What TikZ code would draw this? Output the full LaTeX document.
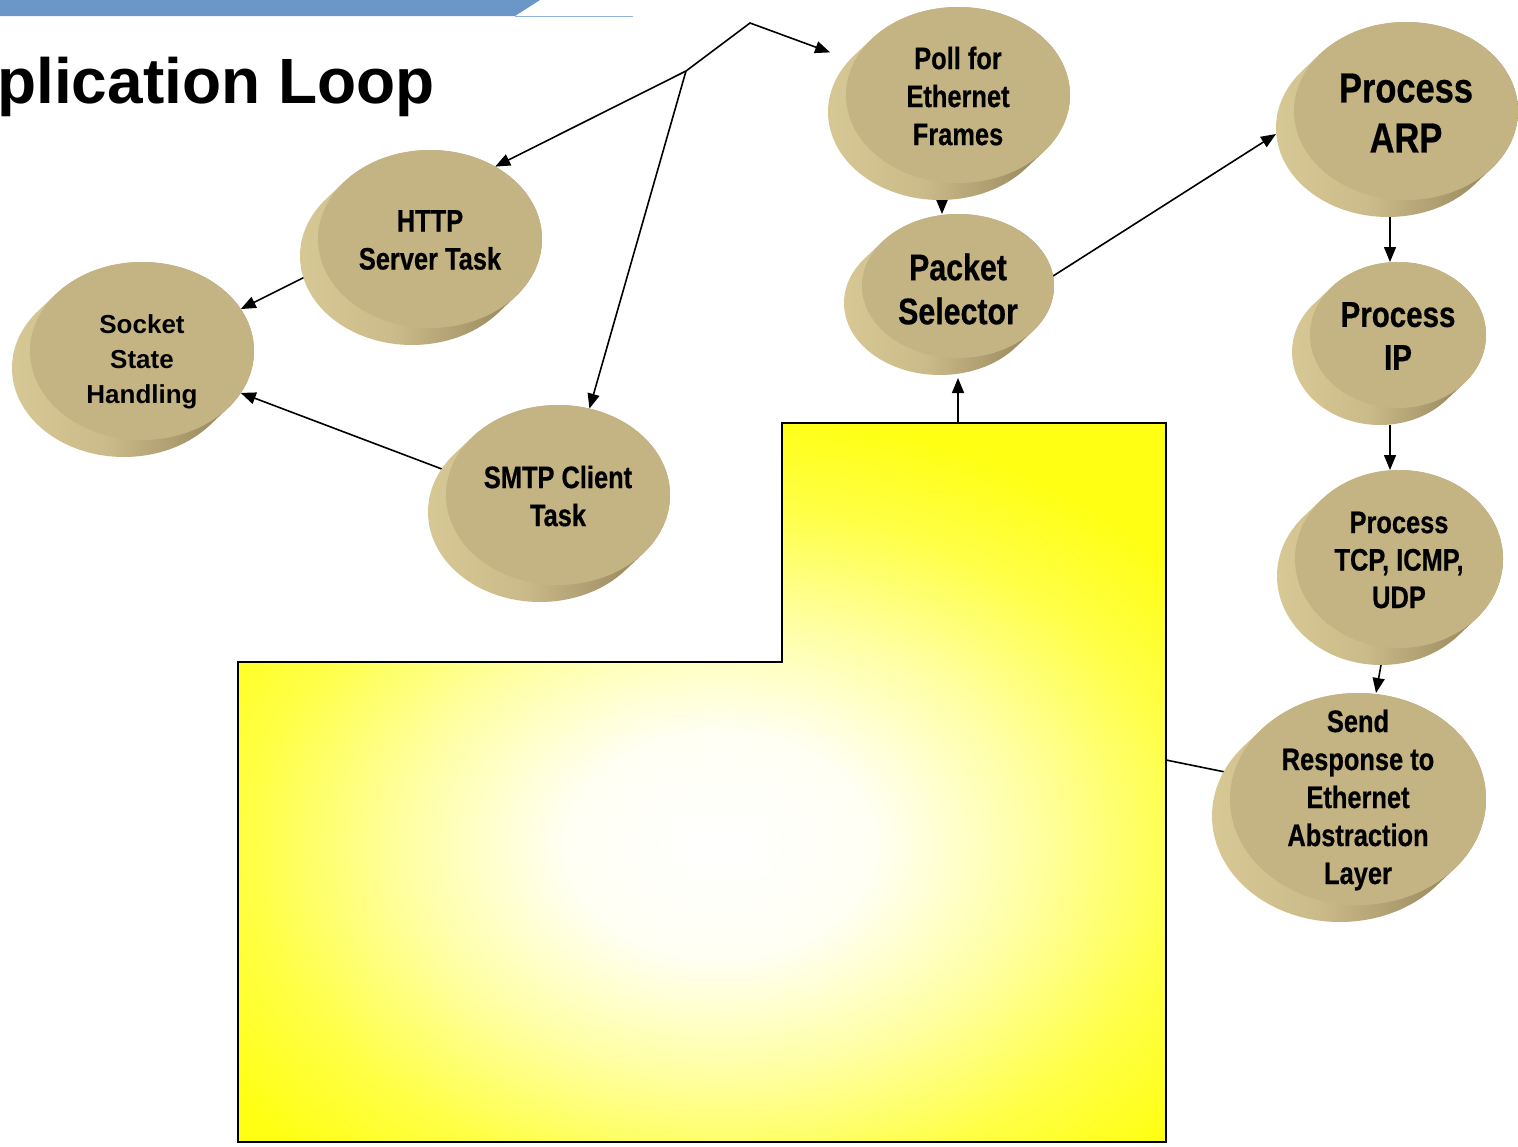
\documentclass[tikz,border=0pt]{standalone}
\usepackage{fontspec}
\setmainfont{Liberation Sans}
\newfontfamily\narrowfont{Liberation Sans}[FakeStretch=0.82, FakeBold=0.6]
\usetikzlibrary{arrows.meta,shapes.geometric,calc}
\pgfdeclarelayer{bg}
\pgfsetlayers{bg,main}
\definecolor{face}{HTML}{C4B484}
\definecolor{sideL}{HTML}{E4D7A0}
\definecolor{sideM}{HTML}{CBBB8A}
\definecolor{sideD}{HTML}{9A8A5F}
\definecolor{band}{HTML}{6A97C7}
\definecolor{bandline}{HTML}{8EB2DC}
\definecolor{boxyellow}{HTML}{FFFF14}
\pgfdeclarehorizontalshading{discside}{100bp}{color(0bp)=(sideL); color(22bp)=(sideL!60!sideM); color(45bp)=(sideM); color(66bp)=(sideD); color(86bp)=(sideM); color(100bp)=(face)}
\pgfdeclareradialshading{boxglow}{\pgfpoint{0bp}{0bp}}{color(0bp)=(white); color(6bp)=(white!95!boxyellow); color(12bp)=(white!62!boxyellow); color(18bp)=(white!22!boxyellow); color(23bp)=(boxyellow); color(50bp)=(boxyellow)}
\tikzset{
  arr/.style={line width=1.6pt, -{Triangle[length=15pt,width=12pt]}},
  conn/.style={line width=1.6pt},
  discface/.style={ellipse, fill=face, inner sep=0pt, outer sep=0pt},
  disctext/.style={align=center, inner sep=0pt},
}
\newcommand\disc[8]{%
  \pgfmathsetmacro\discth{180-atan(18*#5/(17*#4))}%
  \pgfmathsetmacro\discthb{\discth+180}%
  \shade[shading=discside]
    ($(#2,-#3)+(-18,-17)+(\discth:#4pt and #5pt)$)
    arc[start angle=\discth, delta angle=180, x radius=#4pt, y radius=#5pt]
    -- ($(#2,-#3)+(\discthb:#4pt and #5pt)$)
    arc[start angle=\discthb, delta angle=180, x radius=#4pt, y radius=#5pt]
    -- cycle;
  \node[discface, minimum width=2*#4pt, minimum height=2*#5pt] (#1) at (#2,-#3) {};
  \node[disctext, font={#6}] (#1 text) at ([yshift=-#8pt]#1.center) {#7};
}
\begin{document}
\begin{tikzpicture}[x=1pt,y=1pt]
\useasboundingbox (0,0) rectangle (1518,-1146);
% title band
\fill[band] (0,0) -- (540,0) -- (515,-16) -- (0,-16) -- cycle;
\draw[bandline, line width=1pt] (515,-16) -- (633,-16);
\node[anchor=base west, inner sep=0pt, font={\bfseries\fontsize{64}{70}\selectfont}] (title) at (-3,-103) {plication Loop};

% discs
\disc{poll}{958}{95}{112}{88}{\narrowfont\bfseries\fontsize{31}{38}\selectfont}{Poll for\\Ethernet\\Frames}{1}
\disc{pkt}{958}{286}{96}{72}{\narrowfont\bfseries\fontsize{37}{44}\selectfont}{Packet\\Selector}{3}
\disc{arp}{1406}{111}{112}{89}{\narrowfont\bfseries\fontsize{42}{50}\selectfont}{Process\\ARP}{2}
\disc{ip}{1398}{335}{88}{73}{\narrowfont\bfseries\fontsize{36}{43}\selectfont}{Process\\IP}{1}
\disc{tcp}{1399}{559}{104}{89}{\narrowfont\bfseries\fontsize{31}{37.5}\selectfont}{Process\\TCP, ICMP,\\UDP}{1}
\disc{send}{1358}{799}{128}{106}{\narrowfont\bfseries\fontsize{31}{38}\selectfont}{Send\\Response to\\Ethernet\\Abstraction\\Layer}{1}
\disc{http}{430}{239}{112}{89}{\narrowfont\bfseries\fontsize{31}{38}\selectfont}{HTTP\\Server Task}{1}
\disc{socket}{142}{351}{112}{89}{\bfseries\fontsize{26}{35}\selectfont}{Socket\\State\\Handling}{11}
\disc{smtp}{558}{495}{112}{90}{\narrowfont\bfseries\fontsize{31}{38}\selectfont}{SMTP Client\\Task}{1}

\begin{pgfonlayer}{bg}
  % yellow box
  \begin{scope}
    \clip (782,-423) -- (1166,-423) -- (1166,-1142) -- (238,-1142) -- (238,-662) -- (782,-662) -- cycle;
    \fill[boxyellow] (238,-423) rectangle (1166,-1142);
    \shade[shading=boxglow] (720,-845) ellipse (645pt and 470pt);
  \end{scope}
  \draw[conn] (782,-423) -- (1166,-423) -- (1166,-1142) -- (238,-1142) -- (238,-662) -- (782,-662) -- cycle;

  \coordinate (j1) at (686,-71);
  \coordinate (j2) at (750,-23);
  \coordinate (boxtop) at (958,-423);
  \coordinate (boxright) at (1166,-760);
  \coordinate (arpout) at ([xshift=-16pt,yshift=-17pt]arp.south);
  \coordinate (ipout) at ([xshift=-8pt,yshift=-17pt]ip.south);

  \draw[arr] (j1) -- (http.48);
  \draw[arr] (j1) -- (smtp.70);
  \draw[arr, shorten >=26pt] (j1) -- (j2) -- (poll.162);
  \draw[arr] ([xshift=-16pt,yshift=-17pt]poll.south) -- ([xshift=-16pt]pkt.north);
  \draw[arr] (boxtop) -- ([yshift=-20pt]pkt.south);
  \draw[arr] (pkt.6) -- ([xshift=-18pt,yshift=-23pt]arp.west);
  \draw[arr] (arpout) -- (arpout |- ip.north);
  \draw[arr] (ipout) -- (ipout |- tcp.north);
  \draw[arr] ([xshift=-18pt,yshift=-17pt]tcp.south) -- ([xshift=18pt]send.north);
  \draw[conn] (boxright) -- (send.center);
  \draw[arr] (http.195) -- (socket.23);
  \draw[arr] (smtp.168) -- (socket.337);
\end{pgfonlayer}
\end{tikzpicture}
\end{document}
